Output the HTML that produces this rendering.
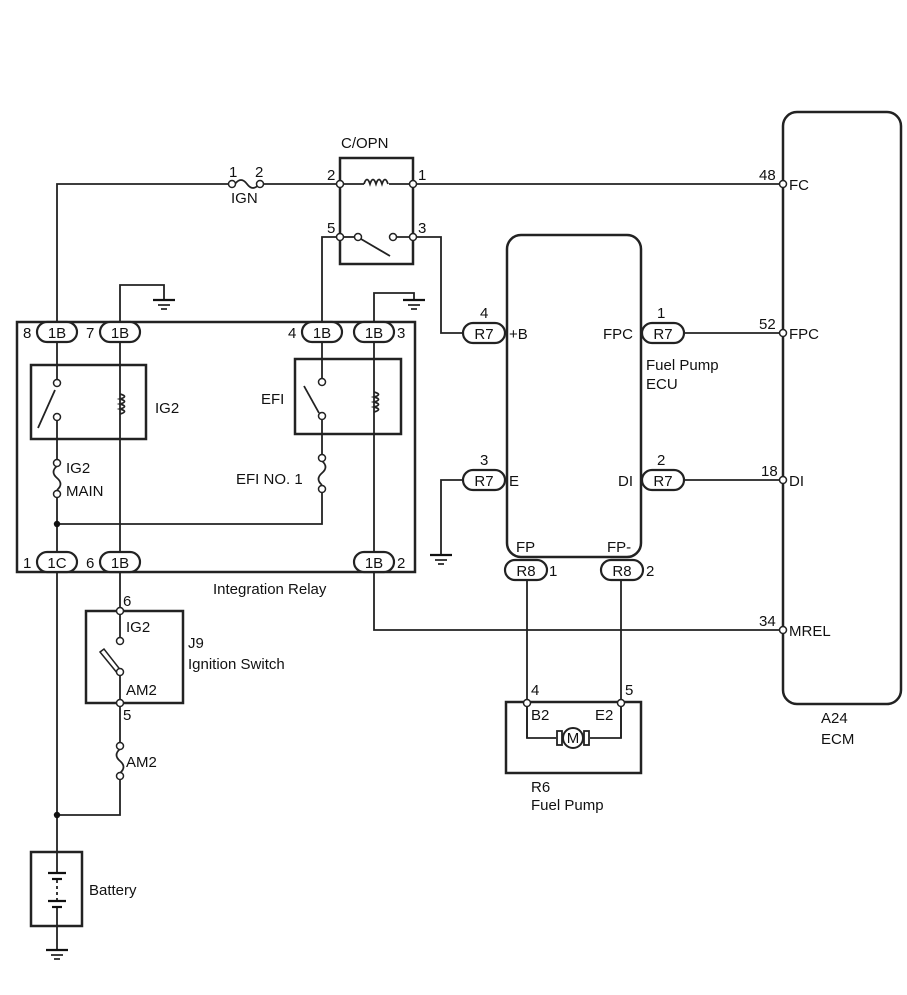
<!DOCTYPE html>
<html><head><meta charset="utf-8"><style>
html,body{margin:0;padding:0;background:#fff;}
svg{display:block;}
text{font-family:"Liberation Sans",Arial,sans-serif;font-size:15px;fill:#111;}
</style></head><body>
<svg width="907" height="995" viewBox="0 0 907 995" xmlns="http://www.w3.org/2000/svg">
<defs>
<g id="gnd"><line x1="-11" y1="0" x2="11" y2="0" stroke="#111" stroke-width="2.2"/><line x1="-6" y1="5" x2="6" y2="5" stroke="#111" stroke-width="1.6"/><line x1="-3" y1="9" x2="3" y2="9" stroke="#111" stroke-width="1.6"/></g>
</defs>
<g fill="none" stroke="#222" stroke-width="1.8">
<polyline points="57,322 57,184 232,184"/>
<line x1="260" y1="184" x2="340" y2="184"/>
<line x1="413" y1="184" x2="783" y2="184"/>
<path d="M235,184 q6,-8 12,0 t12,0"/>
<rect x="340" y="158" width="73" height="106" stroke-width="2.5"/>
<line x1="340" y1="184" x2="364" y2="184"/><line x1="389" y1="184" x2="413" y2="184"/>
<path d="M364,184 q3,-9 6,0 q3,-9 6,0 q3,-9 6,0 q3,-9 6,0"/>
<line x1="340" y1="237" x2="356" y2="237"/><line x1="395" y1="237" x2="413" y2="237"/>
<line x1="361" y1="239" x2="390" y2="256"/>
<polyline points="340,237 322,237 322,322"/>
<polyline points="413,237 441,237 441,333 463,333"/>
<polyline points="120,322 120,285 164,285 164,300"/>
<polyline points="374,322 374,293 414,293 414,300"/>
<rect x="17" y="322" width="398" height="250" stroke-width="2.5"/>
<rect x="31" y="365" width="115" height="74" stroke-width="2.5"/>
<rect x="295" y="359" width="106" height="75" stroke-width="2.5"/>
<line x1="57" y1="343" x2="57" y2="379"/>
<line x1="38" y1="428" x2="55" y2="390"/>
<line x1="57" y1="421" x2="57" y2="463"/>
<path d="M57,466 q-7,6 0,12 q7,6 0,12"/>
<line x1="57" y1="494" x2="57" y2="552"/>
<line x1="120" y1="343" x2="120" y2="552"/>
<path d="M120,394 q9,2.5 0,5 q9,2.5 0,5 q9,2.5 0,5 q9,2.5 0,5" stroke-width="1.8"/>
<line x1="322" y1="343" x2="322" y2="378"/>
<line x1="304" y1="386" x2="319" y2="413"/>
<line x1="322" y1="420" x2="322" y2="458"/>
<path d="M322,461 q7,6 0,12 q-7,6 0,12"/>
<polyline points="322,489 322,524 57,524"/>
<line x1="374" y1="343" x2="374" y2="552"/>
<path d="M374,392 q9,2.5 0,5 q9,2.5 0,5 q9,2.5 0,5 q9,2.5 0,5"/>
<polyline points="374,572 374,630 783,630"/>
<line x1="57" y1="572" x2="57" y2="852"/>
<line x1="120" y1="572" x2="120" y2="637"/>
<rect x="86" y="611" width="97" height="92" stroke-width="2.5"/>
<line x1="120" y1="676" x2="120" y2="742"/>
<path d="M120,749 q-7,6 0,12 q7,6 0,12" />
<polyline points="120,776 120,815 57,815"/>
<polygon points="100,652 104,649 122,672 118,674" stroke-width="1.5"/>
<rect x="31" y="852" width="51" height="74" stroke-width="2.5"/>
<line x1="57" y1="852" x2="57" y2="873"/>
<line x1="57" y1="880" x2="57" y2="900" stroke-dasharray="3,3"/>
<line x1="57" y1="906" x2="57" y2="950"/>
<rect x="507" y="235" width="134" height="322" rx="14" stroke-width="2.5"/>
<polyline points="463,480 441,480 441,555"/>
<line x1="684" y1="333" x2="783" y2="333"/>
<line x1="684" y1="480" x2="783" y2="480"/>
<line x1="527" y1="580" x2="527" y2="738"/><line x1="621" y1="580" x2="621" y2="738"/>
<polyline points="527,703 527,738 556,738"/><polyline points="621,703 621,738 590,738"/>
<rect x="506" y="702" width="135" height="71" stroke-width="2.5"/>
<circle cx="573" cy="738" r="10" fill="#fff" stroke-width="2"/>
<rect x="557" y="731" width="5" height="14"/><rect x="584" y="731" width="5" height="14"/>
<rect x="783" y="112" width="118" height="592" rx="14" stroke-width="2.5"/>
</g>
<use href="#gnd" x="164" y="300"/><use href="#gnd" x="414" y="300"/><use href="#gnd" x="441" y="555"/><use href="#gnd" x="57" y="950"/>
<g stroke="#111" stroke-width="2.2"><line x1="48" y1="873" x2="66" y2="873"/><line x1="52" y1="879" x2="62" y2="879"/><line x1="48" y1="901" x2="66" y2="901"/><line x1="52" y1="907" x2="62" y2="907"/></g>
<circle cx="57" cy="524" r="3.2" fill="#111"/><circle cx="57" cy="815" r="3.2" fill="#111"/>
<g fill="#fff" stroke="#222" stroke-width="1.5">
<circle cx="232" cy="184" r="3.5"/><circle cx="260" cy="184" r="3.5"/>
<circle cx="340" cy="184" r="3.5"/><circle cx="413" cy="184" r="3.5"/>
<circle cx="340" cy="237" r="3.5"/><circle cx="358" cy="237" r="3.5"/><circle cx="393" cy="237" r="3.5"/><circle cx="413" cy="237" r="3.5"/>
<circle cx="57" cy="383" r="3.5"/><circle cx="57" cy="417" r="3.5"/>
<circle cx="57" cy="463" r="3.5"/><circle cx="57" cy="494" r="3.5"/>
<circle cx="322" cy="382" r="3.5"/><circle cx="322" cy="416" r="3.5"/>
<circle cx="322" cy="458" r="3.5"/><circle cx="322" cy="489" r="3.5"/>
<circle cx="120" cy="611" r="3.5"/><circle cx="120" cy="641" r="3.5"/><circle cx="120" cy="672" r="3.5"/><circle cx="120" cy="703" r="3.5"/>
<circle cx="120" cy="746" r="3.5"/><circle cx="120" cy="776" r="3.5"/>
<circle cx="783" cy="184" r="3.5"/><circle cx="783" cy="333" r="3.5"/><circle cx="783" cy="480" r="3.5"/><circle cx="783" cy="630" r="3.5"/>
<circle cx="527" cy="703" r="3.5"/><circle cx="621" cy="703" r="3.5"/>
</g>
<g fill="#fff" stroke="#222" stroke-width="2.2">
<rect x="37" y="322" width="40" height="20" rx="10"/><rect x="100" y="322" width="40" height="20" rx="10"/>
<rect x="302" y="322" width="40" height="20" rx="10"/><rect x="354" y="322" width="40" height="20" rx="10"/>
<rect x="37" y="552" width="40" height="20" rx="10"/><rect x="100" y="552" width="40" height="20" rx="10"/><rect x="354" y="552" width="40" height="20" rx="10"/>
<rect x="463" y="323" width="42" height="20" rx="10"/><rect x="463" y="470" width="42" height="20" rx="10"/>
<rect x="642" y="323" width="42" height="20" rx="10"/><rect x="642" y="470" width="42" height="20" rx="10"/>
<rect x="505" y="560" width="42" height="20" rx="10"/><rect x="601" y="560" width="42" height="20" rx="10"/>
</g>
<g text-anchor="middle">
<text x="57" y="338">1B</text><text x="120" y="338">1B</text><text x="322" y="338">1B</text><text x="374" y="338">1B</text>
<text x="57" y="568">1C</text><text x="120" y="568">1B</text><text x="374" y="568">1B</text>
<text x="484" y="339">R7</text><text x="484" y="486">R7</text><text x="663" y="339">R7</text><text x="663" y="486">R7</text>
<text x="526" y="576">R8</text><text x="622" y="576">R8</text>
<text x="573" y="743">M</text>
</g>
<text x="23" y="338">8</text><text x="86" y="338">7</text><text x="288" y="338">4</text><text x="397" y="338">3</text>
<text x="23" y="568">1</text><text x="86" y="568">6</text><text x="397" y="568">2</text>
<text x="229" y="177">1</text><text x="255" y="177">2</text><text x="231" y="203">IGN</text>
<text x="341" y="148">C/OPN</text><text x="327" y="180">2</text><text x="418" y="180">1</text><text x="327" y="233">5</text><text x="418" y="233">3</text>
<text x="155" y="413">IG2</text><text x="261" y="404">EFI</text>
<text x="66" y="473">IG2</text><text x="66" y="496">MAIN</text><text x="236" y="484">EFI NO. 1</text>
<text x="213" y="594">Integration Relay</text>
<text x="123" y="606">6</text><text x="126" y="632">IG2</text><text x="188" y="648">J9</text><text x="188" y="669">Ignition Switch</text>
<text x="126" y="695">AM2</text><text x="123" y="720">5</text><text x="126" y="767">AM2</text>
<text x="89" y="895">Battery</text>
<text x="480" y="318">4</text><text x="509" y="339">+B</text><text x="480" y="465">3</text><text x="509" y="486">E</text>
<text x="603" y="339">FPC</text><text x="657" y="318">1</text><text x="646" y="370">Fuel Pump</text><text x="646" y="389">ECU</text>
<text x="618" y="486">DI</text><text x="657" y="465">2</text>
<text x="516" y="552">FP</text><text x="607" y="552">FP-</text><text x="549" y="576">1</text><text x="646" y="576">2</text>
<text x="531" y="695">4</text><text x="625" y="695">5</text><text x="531" y="720">B2</text><text x="595" y="720">E2</text>
<text x="531" y="792">R6</text><text x="531" y="810">Fuel Pump</text>
<text x="759" y="180">48</text><text x="789" y="190">FC</text>
<text x="759" y="329">52</text><text x="789" y="339">FPC</text>
<text x="761" y="476">18</text><text x="789" y="486">DI</text>
<text x="759" y="626">34</text><text x="789" y="636">MREL</text>
<text x="821" y="723">A24</text><text x="821" y="744">ECM</text>
</svg>
</body></html>
